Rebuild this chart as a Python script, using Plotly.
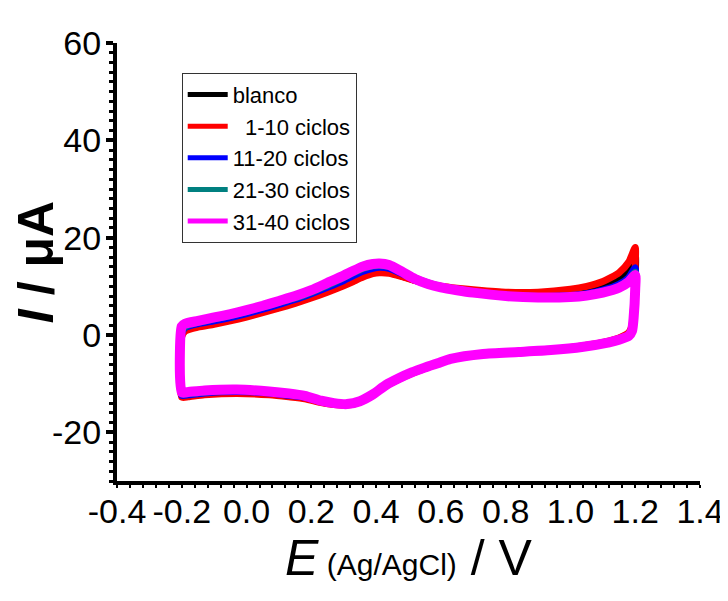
import plotly.graph_objects as go

# Potencial (V vs Ag/AgCl): barrido directo y de regreso
E_fwd = [-0.2, -0.19, -0.15, -0.1, -0.05, 0.0, 0.05, 0.1, 0.15, 0.2, 0.25, 0.3, 0.33, 0.36, 0.39,
         0.41, 0.44, 0.48, 0.52, 0.56, 0.6, 0.65, 0.7, 0.8, 0.9, 1.0, 1.05, 1.1, 1.15, 1.18, 1.2]
E_rev = [1.2, 1.195, 1.19, 1.18, 1.15, 1.12, 1.04, 0.94, 0.84, 0.73, 0.63, 0.59, 0.55, 0.51,
         0.47, 0.43, 0.39, 0.35, 0.31, 0.27, 0.23, 0.18, 0.13, 0.07, -0.03, -0.13, -0.18, -0.2]

# Corriente (uA) de cada serie
I_blanco_fwd = [0.0, 1.0, 1.8, 2.4, 3.1, 3.9, 4.8, 5.7, 6.7, 7.8, 9.0, 10.3, 11.2, 12.1, 12.8,
                13.0, 12.9, 12.1, 11.2, 10.4, 9.8, 9.3, 8.9, 8.3, 8.3, 8.8, 9.3, 10.2, 11.8, 13.7, 16.4]
I_blanco_rev = [12.0, 5.0, 1.6, 0.3, -0.7, -1.3, -2.3, -3.0, -3.5, -4.0, -5.0, -5.9, -6.8, -7.8,
                -9.0, -10.4, -12.3, -13.7, -14.3, -14.2, -13.8, -12.9, -12.5, -12.0, -11.7, -12.0, -12.3, -12.4]

I_c1_fwd = [-0.3, 0.8, 1.6, 2.2, 2.9, 3.7, 4.6, 5.5, 6.5, 7.6, 8.8, 10.1, 11.0, 11.9, 12.6,
            12.8, 12.7, 12.0, 11.2, 10.5, 10.0, 9.6, 9.3, 8.8, 8.8, 9.4, 10.0, 11.0, 12.8, 15.0, 18.0]
I_c1_rev = [14.0, 6.0, 2.0, 0.5, -0.6, -1.2, -2.2, -3.0, -3.5, -4.0, -5.0, -5.9, -6.9, -7.9,
            -9.1, -10.5, -12.4, -13.8, -14.4, -14.3, -13.9, -13.1, -12.7, -12.3, -12.0, -12.3, -12.7, -12.8]

I_c2_fwd = [0.4, 1.5, 2.3, 2.9, 3.6, 4.4, 5.3, 6.3, 7.3, 8.5, 9.8, 11.2, 12.2, 13.1, 13.7,
            13.9, 13.7, 12.6, 11.4, 10.5, 9.8, 9.1, 8.7, 8.1, 7.9, 8.1, 8.5, 9.2, 10.4, 11.8, 13.8]
I_c2_rev = [11.0, 4.0, 1.2, 0.0, -0.9, -1.4, -2.3, -3.1, -3.5, -3.9, -4.9, -5.8, -6.7, -7.7,
            -8.9, -10.3, -12.2, -13.6, -14.2, -14.1, -13.7, -12.8, -12.4, -11.9, -11.6, -11.9, -12.3, -12.4]

I_c3_fwd = [0.5, 1.7, 2.6, 3.3, 4.0, 4.8, 5.7, 6.7, 7.6, 8.8, 10.2, 11.8, 12.8, 13.7, 14.2,
            14.3, 14.1, 13.0, 11.7, 10.7, 10.0, 9.4, 8.9, 8.2, 7.9, 8.0, 8.3, 8.9, 10.0, 11.2, 12.9]
I_c3_rev = [10.0, 3.8, 1.0, -0.1, -0.9, -1.4, -2.3, -3.1, -3.5, -3.9, -4.9, -5.8, -6.7, -7.7,
            -8.9, -10.3, -12.2, -13.6, -14.2, -14.0, -13.6, -12.7, -12.2, -11.8, -11.4, -11.7, -12.0, -12.1]

I_c4_fwd = [1.8, 2.3, 2.9, 3.6, 4.3, 5.1, 6.0, 7.0, 8.0, 9.2, 10.7, 12.2, 13.2, 14.1, 14.6,
            14.7, 14.4, 13.0, 11.5, 10.5, 9.8, 9.2, 8.7, 8.0, 7.7, 7.8, 8.1, 8.7, 9.7, 10.9, 12.3]
I_c4_rev = [9.5, 3.5, 0.8, -0.2, -1.0, -1.5, -2.4, -3.1, -3.5, -3.9, -4.9, -5.8, -6.7, -7.7,
            -8.9, -10.3, -12.2, -13.6, -14.2, -14.0, -13.5, -12.5, -12.0, -11.6, -11.2, -11.4, -11.7, -11.8]

names = ["blanco", "  1-10 ciclos", "11-20 ciclos", "21-30 ciclos", "31-40 ciclos"]

# Marcas de los ejes (con guion simple como en el original)
x_ticks = [-0.4, -0.2, 0.0, 0.2, 0.4, 0.6, 0.8, 1.0, 1.2, 1.4]
x_labels = ["-0.4", "-0.2", "0.0", "0.2", "0.4", "0.6", "0.8", "1.0", "1.2", "1.4"]
y_ticks = [-20, 0, 20, 40, 60]
y_labels = ["-20", "0", "20", "40", "60"]

colors = ["#000000", "#ff0000", "#0000ff", "#008080", "#ff00ff"]
widths = [7, 7, 7, 7, 10]
fwd_list = [I_blanco_fwd, I_c1_fwd, I_c2_fwd, I_c3_fwd, I_c4_fwd]
rev_list = [I_blanco_rev, I_c1_rev, I_c2_rev, I_c3_rev, I_c4_rev]

FONT = "Liberation Sans, Arial, sans-serif"

fig = go.Figure()
for name, col, w, i_f, i_r in zip(names, colors, widths, fwd_list, rev_list):
    x = E_fwd + E_rev + [E_fwd[0]]
    y = i_f + i_r + [i_f[0]]
    fig.add_trace(go.Scatter(x=x, y=y, mode="lines", name=name, showlegend=False,
                             line=dict(color=col, width=w, shape="spline", smoothing=0.6)))
# entradas de la leyenda con trazo más fino
for name, col in zip(names, colors):
    fig.add_trace(go.Scatter(x=[None], y=[None], mode="lines", name=name,
                             line=dict(color=col, width=5)))

axis_common = dict(
    showline=True, linecolor="black", linewidth=4,
    ticks="outside", tickcolor="black",
    showgrid=False, zeroline=False, mirror=False, automargin=False,
    tickfont=dict(family=FONT, size=34, color="black"),
)

fig.update_xaxes(range=[-0.4, 1.4], tickvals=x_ticks, ticktext=x_labels, tickangle=0,
                 ticklen=3, tickwidth=2, ticklabelstandoff=-6,
                 minor=dict(ticks="outside", ticklen=3, tickwidth=2, tickcolor="black", dtick=0.04),
                 title=dict(text="<i>E</i><span style='font-size:30px'> (Ag/AgCl)</span> / V",
                            font=dict(family=FONT, size=50, color="black"), standoff=0),
                 **axis_common)
fig.update_yaxes(range=[-30, 60], tickvals=y_ticks, ticktext=y_labels,
                 ticklen=7, tickwidth=4, ticklabelstandoff=-2,
                 minor=dict(ticks="outside", ticklen=4, tickwidth=3, tickcolor="black", dtick=2),
                 title=dict(text="<b><i>I</i> / μA</b>",
                            font=dict(family=FONT, size=50, color="black"), standoff=0),
                 **axis_common)

fig.update_layout(
    width=728, height=601,
    margin=dict(l=109, r=36, t=35, b=128),
    plot_bgcolor="white", paper_bgcolor="white",
    legend=dict(x=0.111, y=0.932, xanchor="left", yanchor="top",
                bgcolor="white", bordercolor="#333333", borderwidth=1,
                font=dict(family=FONT, size=22, color="black"),
                tracegroupgap=0, itemwidth=40),
)

fig.write_html("out.html")
